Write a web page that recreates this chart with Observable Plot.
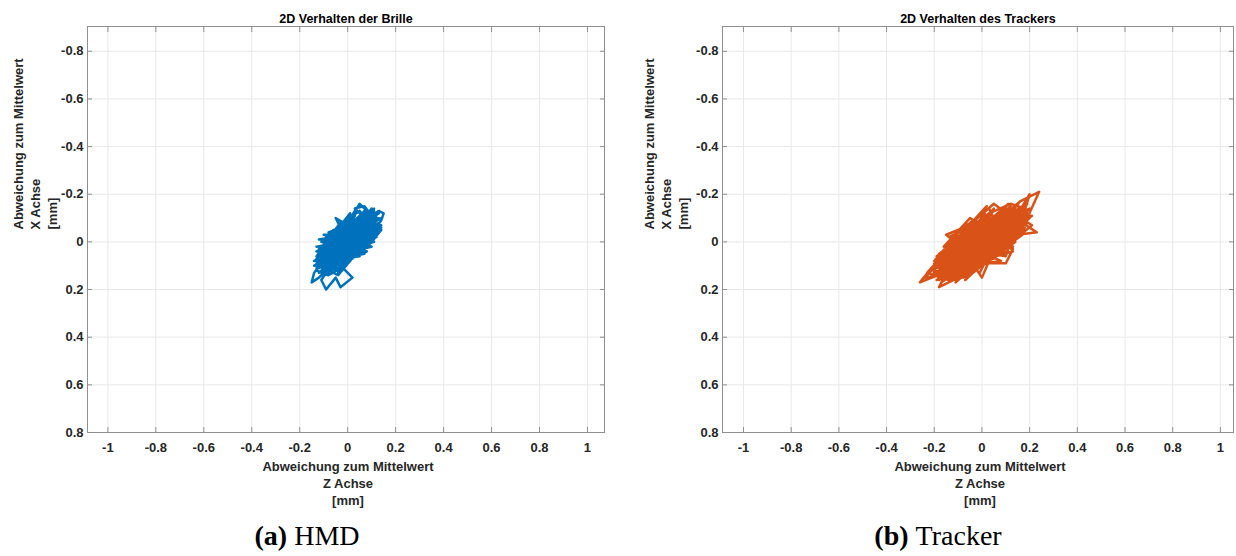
<!DOCTYPE html>
<html>
<head>
<meta charset="utf-8">
<script src="https://cdn.jsdelivr.net/npm/d3@7"></script>
<script src="https://cdn.jsdelivr.net/npm/@observablehq/plot@0.6"></script>
<style>
  html, body { margin: 0; padding: 0; background: #fff; }
  #root { position: relative; width: 1236px; height: 556px; overflow: hidden; }
  .panel { position: absolute; top: 0; }
  .cap { position: absolute; top: 520px; font-family: "Liberation Serif", serif; font-size: 28px; color: #000; white-space: nowrap; transform: translateX(-50%); }
  .cap b { font-weight: bold; }
</style>
</head>
<body>
<div id="root">
  <div class="panel" id="left" style="left:0px"></div>
  <div class="panel" id="right" style="left:618px"></div>
  <div class="cap" style="left:307px"><b>(a)</b>&nbsp;HMD</div>
  <div class="cap" style="left:938px"><b>(b)</b>&nbsp;Tracker</div>
</div>
<script>
// Axis ticks
const zTicks = [-1, -0.8, -0.6, -0.4, -0.2, 0, 0.2, 0.4, 0.6, 0.8, 1];
const xTicks = [-0.8, -0.6, -0.4, -0.2, 0, 0.2, 0.4, 0.6, 0.8];

// Texts
const titles = ["2D Verhalten der Brille", "2D Verhalten des Trackers"];
const xLabel = "Abweichung zum Mittelwert\nZ Achse\n[mm]";
const yLabel = "Abweichung zum Mittelwert\nX Achse\n[mm]";

// HMD (Brille): Z deviation (horizontal) and X deviation (vertical), mm
const hmdZ = [0.00,0.05,-0.03,0.08,0.02,-0.06,0.04,0.10,0.06,-0.02,-0.09,-0.04,0.03,0.09,0.12,0.07,0.00,-0.07,-0.11,-0.05,
  0.01,0.06,0.03,0.07,0.10,0.13,0.15,0.14,0.11,0.05,-0.01,-0.08,-0.13,-0.10,-0.03,0.04,0.01,-0.06,-0.12,-0.15,
  -0.14,-0.09,-0.02,0.05,0.11,0.08,0.02,-0.05,-0.01,0.02,-0.03,-0.05,-0.09,-0.11,-0.07,0.00,0.07,0.13,0.09,0.03,
  -0.04,-0.10,-0.06,0.00,-0.05,-0.03,0.04,0.08,0.05,0.02,-0.04,-0.10,-0.13,-0.08,-0.01,0.06,0.12,0.10,0.04,-0.02,
  -0.07,-0.03,0.03,0.09,0.14,0.10,0.05,-0.02,-0.09,-0.12,-0.07,-0.01,0.05,0.09,0.04,-0.03,-0.08,-0.04,0.01,0.06,
  0.11,0.07,0.01,-0.05,-0.11,-0.07,-0.01,0.05,0.08,0.03,-0.02,-0.08,-0.04,0.02,0.08,0.12,0.06,0.00,-0.06,-0.02,
  0.03,0.07,0.02,-0.03,0.00,
  0.10,-0.09,0.08,-0.12,0.05,-0.06,0.13,-0.10,0.03,-0.08,0.07,-0.13,0.11,-0.02,-0.05,0.09,-0.11,0.06,0.00,0.12,
  -0.07,0.02,-0.12,0.10,-0.04,0.04,-0.09,0.08,-0.03,-0.10,0.06,0.11,-0.06,0.01,-0.13,0.09,-0.01,0.05,-0.08,0.13,
  -0.05,0.03,-0.11,0.07,-0.02,0.10,-0.07,0.00,0.08,-0.12,0.04,-0.03,0.12,-0.09,0.06,-0.04,0.02,-0.10,0.11,-0.06,
  0.05,-0.08,0.09,-0.01,-0.12,0.07,0.00,0.13,-0.07,0.03,-0.10,0.08,-0.03,0.10,-0.05,0.04,-0.11,0.06,-0.02,0.11,
  -0.09,0.01,0.07,-0.06,0.12,-0.04,0.02,-0.08,0.09,-0.13,0.05,-0.01,0.08,-0.07,0.03,0.00,
  -0.13,0.10,-0.12,0.12,-0.11,0.14,-0.13,0.09,-0.10,0.13,-0.14,0.11,-0.12,0.14,-0.09,0.08,-0.14,0.12,-0.11,0.13,
  -0.08,0.10,-0.13,0.11,-0.12,0.07,-0.10,0.14,-0.13,0.09,0.00];
const hmdX = [0.00,-0.06,0.04,-0.09,0.03,0.05,-0.02,-0.10,-0.04,0.08,0.10,0.02,-0.08,-0.12,-0.07,0.00,0.06,0.12,0.08,-0.01,
  -0.05,-0.11,-0.14,-0.15,-0.11,-0.13,-0.12,-0.09,-0.05,0.02,0.10,0.14,0.12,0.04,-0.03,-0.10,-0.02,0.09,0.15,0.17,
  0.13,0.06,-0.01,-0.08,-0.14,-0.06,0.01,0.07,0.12,0.15,0.19,0.15,0.20,0.16,0.10,0.03,-0.04,-0.08,-0.02,0.04,
  0.11,0.13,0.03,-0.07,-0.10,-0.06,-0.05,-0.13,-0.16,-0.11,-0.02,0.06,0.09,0.02,-0.04,-0.09,-0.10,-0.04,0.01,0.05,
  0.08,0.00,-0.06,-0.07,-0.05,0.00,0.05,0.09,0.11,0.04,-0.02,-0.09,-0.13,-0.08,-0.01,0.06,0.12,0.14,0.08,0.02,
  -0.06,-0.10,-0.04,0.04,0.10,0.05,0.01,-0.03,-0.11,-0.09,-0.04,0.03,0.09,0.05,-0.01,-0.04,-0.07,-0.01,0.07,0.03,
  -0.03,-0.08,-0.06,0.02,0.00,
  -0.03,0.02,-0.10,0.07,0.01,-0.05,-0.06,0.11,-0.13,0.04,0.03,0.10,-0.09,-0.07,0.12,-0.01,0.05,-0.12,0.09,-0.11,
  -0.02,0.07,0.13,-0.07,0.03,-0.09,0.09,0.00,-0.08,0.01,0.04,-0.12,0.10,-0.12,0.06,-0.05,0.08,-0.07,0.13,-0.10,
  -0.03,0.05,0.09,-0.13,0.02,-0.08,0.06,-0.10,0.02,0.11,-0.04,0.11,-0.03,-0.01,-0.11,0.07,-0.01,0.12,-0.13,0.00,
  0.06,0.08,-0.10,-0.05,0.03,-0.06,0.04,-0.08,0.12,-0.11,0.07,-0.04,0.01,-0.14,0.09,0.01,0.12,-0.08,-0.04,-0.04,
  0.05,0.06,-0.12,0.03,-0.07,0.13,-0.08,0.00,-0.02,0.08,-0.05,0.10,-0.11,0.04,0.02,0.00,
  0.02,-0.02,-0.01,-0.05,0.06,-0.07,0.04,0.01,-0.03,-0.04,0.08,0.00,0.05,-0.10,-0.02,0.04,0.10,-0.02,0.00,-0.12,
  -0.04,0.02,0.07,-0.06,0.09,0.05,0.03,-0.06,0.11,-0.03,0.00];

// Tracker: Z deviation (horizontal) and X deviation (vertical), mm
const trackerZ = [0.00,0.08,-0.06,0.12,0.03,-0.11,-0.02,0.10,0.16,0.05,-0.08,-0.17,-0.09,0.02,0.14,0.20,0.11,-0.01,-0.13,-0.20,
  -0.14,-0.04,0.06,0.17,0.23,0.15,0.07,-0.05,-0.16,-0.26,-0.22,-0.12,0.00,0.09,0.05,-0.03,-0.10,-0.15,-0.07,0.04,
  0.11,0.19,0.24,0.16,0.07,-0.04,-0.13,-0.18,-0.12,-0.06,0.02,0.10,0.13,0.08,-0.02,-0.11,-0.20,-0.14,-0.05,0.03,
  0.12,0.18,0.10,0.01,-0.09,-0.18,-0.24,-0.16,-0.06,0.05,0.14,0.20,0.17,0.09,0.00,-0.10,-0.11,-0.03,0.06,0.15,
  0.21,0.13,0.04,-0.07,-0.17,-0.21,-0.13,-0.03,0.07,0.15,0.09,-0.01,-0.10,-0.19,-0.15,-0.06,0.02,0.11,0.18,0.12,
  0.04,-0.05,-0.14,-0.23,-0.15,-0.04,0.06,0.13,0.08,-0.01,-0.09,-0.02,0.00,0.03,0.10,0.17,0.10,0.02,-0.06,-0.12,
  -0.08,0.01,0.08,0.16,0.12,0.05,-0.04,-0.12,-0.18,-0.10,-0.01,0.07,0.03,-0.05,-0.13,-0.07,0.03,0.11,0.06,-0.03,
  -0.10,-0.17,-0.09,0.00,0.08,0.14,0.07,0.00,
  0.15,-0.16,0.12,-0.19,0.08,-0.09,0.19,-0.15,0.04,-0.12,0.11,-0.21,0.16,-0.04,-0.08,0.14,-0.17,0.09,0.00,0.20,
  -0.11,0.05,-0.19,0.15,-0.06,0.07,-0.14,0.13,-0.05,-0.16,0.10,0.17,-0.09,0.02,-0.20,0.14,-0.02,0.08,-0.13,0.21,
  -0.08,0.05,-0.17,0.11,-0.03,0.16,-0.11,0.01,0.13,-0.19,0.06,-0.05,0.18,-0.14,0.10,-0.07,0.03,-0.16,0.19,-0.10,
  0.08,-0.13,0.15,-0.02,-0.18,0.12,0.00,0.20,-0.11,0.05,-0.15,0.13,-0.05,0.16,-0.08,0.07,-0.18,0.10,-0.03,0.17,
  -0.14,0.02,0.12,-0.10,0.19,-0.07,0.04,-0.12,0.14,-0.21,0.09,-0.01,0.13,-0.11,0.05,-0.06,0.18,-0.16,0.01,0.00];
const trackerX = [0.00,-0.07,0.05,-0.12,0.02,0.08,-0.04,-0.03,-0.13,-0.10,0.00,0.10,0.12,0.04,-0.06,-0.12,-0.09,-0.06,0.03,0.12,
  0.15,0.08,-0.01,-0.08,-0.04,-0.03,0.04,0.11,0.13,0.17,0.12,0.05,-0.03,-0.13,-0.16,-0.09,-0.05,-0.03,0.03,0.06,
  0.01,-0.10,-0.21,-0.17,-0.08,0.01,0.09,0.19,0.16,0.13,0.09,0.09,0.03,-0.04,0.02,0.10,0.08,0.01,-0.06,-0.12,
  -0.16,-0.14,-0.06,0.01,0.06,0.14,0.15,0.07,-0.01,-0.07,-0.10,-0.20,-0.10,0.01,0.07,0.14,0.17,0.10,0.03,-0.02,
  -0.07,-0.12,-0.05,0.04,0.05,0.15,0.12,0.05,-0.02,-0.08,-0.12,-0.08,0.00,0.06,0.11,0.07,0.00,-0.05,-0.06,0.00,
  0.03,0.09,0.16,0.13,0.04,-0.03,-0.11,-0.14,-0.09,-0.02,0.04,0.12,0.15,0.08,0.02,-0.03,-0.08,-0.10,-0.03,0.06,
  0.11,0.05,-0.05,-0.11,-0.02,0.05,0.06,0.02,0.09,0.08,0.03,-0.06,-0.14,-0.08,-0.01,0.05,-0.02,-0.11,-0.05,0.04,
  0.12,0.17,0.09,0.02,0.04,-0.04,-0.03,0.00,
  -0.02,0.06,-0.11,0.11,0.03,-0.04,-0.08,0.13,-0.13,0.03,0.04,0.14,-0.12,-0.08,0.15,0.00,0.08,-0.14,0.10,-0.14,
  -0.01,0.07,0.16,-0.09,0.04,-0.11,0.10,0.02,-0.10,0.02,0.06,-0.15,0.12,-0.15,0.09,-0.06,0.09,-0.09,0.16,-0.11,
  -0.05,0.05,0.12,-0.16,0.03,-0.10,0.07,-0.12,0.04,0.13,-0.04,0.14,-0.05,-0.02,-0.13,0.09,-0.01,0.15,-0.16,0.00,
  0.08,0.11,-0.13,-0.06,0.05,-0.07,0.06,-0.10,0.16,-0.14,0.09,-0.05,0.01,-0.17,0.13,0.01,0.16,-0.10,-0.07,-0.04,
  0.07,0.09,-0.15,0.05,-0.09,0.16,-0.10,0.01,-0.03,0.11,-0.06,0.13,-0.14,0.06,0.02,-0.02,-0.12,0.10,0.04,0.00];

const fmt = d => String(d);

function panel({title, z, x, color, zDomain, marginLeft, marginRight, yLabelDx}) {
  const data = z.map((v, i) => ({z: v, x: x[i]}));
  return Plot.plot({
    width: 618,
    height: 510,
    marginTop: 26,
    marginBottom: 78,
    marginLeft,
    marginRight,
    style: {fontFamily: "'Liberation Sans', Arial, sans-serif", fontSize: "13px", fontWeight: "bold", color: "#262626", background: "white", overflow: "visible"},
    x: {domain: zDomain},
    y: {domain: [-0.904, 0.8], reverse: true},
    marks: [
      Plot.gridX(zTicks, {stroke: "#e8e8e8", strokeOpacity: 1}),
      Plot.gridY(xTicks, {stroke: "#e8e8e8", strokeOpacity: 1}),
      Plot.line(data, {x: "z", y: "x", stroke: color, strokeWidth: 2.5, strokeLinejoin: "round", curve: "linear"}),
      Plot.axisX({ticks: zTicks, anchor: "bottom", tickSize: 0, tickPadding: 10, tickFormat: fmt, label: null, fontSize: 13, fontWeight: "bold", fill: "#262626"}),
      Plot.axisY({ticks: xTicks, anchor: "left", tickSize: 0, tickPadding: 4, tickFormat: fmt, label: null, fontSize: 13, fontWeight: "bold", fill: "#262626"}),
      Plot.axisX({ticks: zTicks, anchor: "bottom", tickSize: -5, tickFormat: () => "", label: null, stroke: "#8f8f8f"}),
      Plot.axisX({ticks: zTicks, anchor: "top", tickSize: -5, tickFormat: () => "", label: null, stroke: "#8f8f8f"}),
      Plot.axisY({ticks: xTicks, anchor: "left", tickSize: -5, tickFormat: () => "", label: null, stroke: "#8f8f8f"}),
      Plot.axisY({ticks: xTicks, anchor: "right", tickSize: -5, tickFormat: () => "", label: null, stroke: "#8f8f8f"}),
      Plot.frame({stroke: "#8f8f8f", strokeWidth: 1}),
      Plot.text([title], {text: d => d, frameAnchor: "top", lineAnchor: "middle", dy: -8, fontSize: 12.5, fontWeight: "bold", fill: "#000"}),
      Plot.text([xLabel], {text: d => d, frameAnchor: "bottom", lineAnchor: "middle", dy: 50, dx: 2, lineHeight: 1.3, fontSize: 13, fontWeight: "bold", fill: "#262626"}),
      Plot.text([yLabel], {text: d => d, frameAnchor: "left", lineAnchor: "middle", rotate: -90, dx: yLabelDx, lineHeight: 1.3, fontSize: 13, fontWeight: "bold", fill: "#262626"})
    ]
  });
}

document.getElementById("left").append(panel({
  title: titles[0], z: hmdZ, x: hmdX, color: "#0072BD",
  zDomain: [-1.085, 1.071], marginLeft: 87, marginRight: 14, yLabelDx: -53
}));
document.getElementById("right").append(panel({
  title: titles[1], z: trackerZ, x: trackerX, color: "#D95319",
  zDomain: [-1.088, 1.055], marginLeft: 104, marginRight: 3, yLabelDx: -57
}));
</script>
</body>
</html>
